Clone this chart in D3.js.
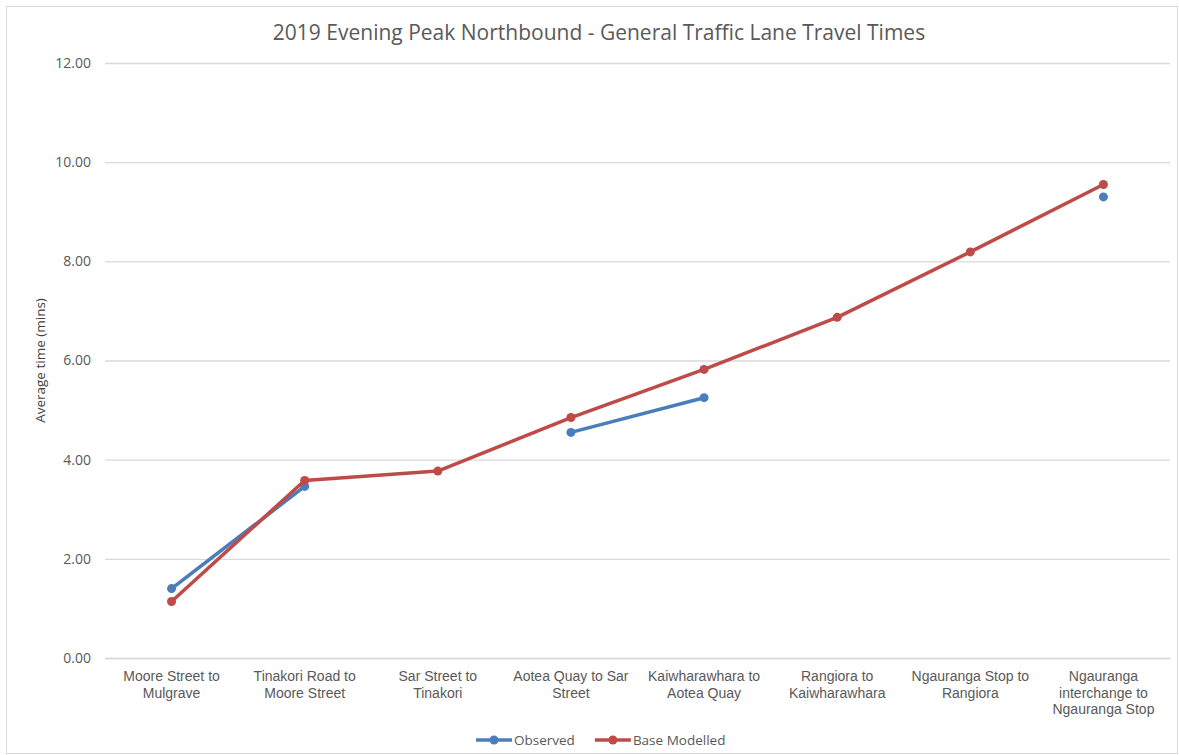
<!DOCTYPE html>
<html>
<head>
<meta charset="utf-8">
<script src="https://cdn.jsdelivr.net/npm/d3@7/dist/d3.min.js"></script>
<style>
  body { margin: 0; background: #fff; }
  svg { font-family: "Open Sans", "Noto Sans", sans-serif; }
</style>
</head>
<body>
<div id="chart"></div>
<script>
const categories = [
  ["Moore Street to", "Mulgrave"],
  ["Tinakori Road to", "Moore Street"],
  ["Sar Street to", "Tinakori"],
  ["Aotea Quay to Sar", "Street"],
  ["Kaiwharawhara to", "Aotea Quay"],
  ["Rangiora to", "Kaiwharawhara"],
  ["Ngauranga Stop to", "Rangiora"],
  ["Ngauranga", "interchange to", "Ngauranga Stop"]
];
const observed = [1.40, 3.46, null, 4.55, 5.25, null, null, 9.30];
const baseModelled = [1.14, 3.58, 3.77, 4.85, 5.82, 6.87, 8.19, 9.55];
const yTicks = [0, 2, 4, 6, 8, 10, 12];

const series = [
  { name: "Observed", values: observed, color: "#4a7ebb" },
  { name: "Base Modelled", values: baseModelled, color: "#be4b48" }
];

const W = 1179, H = 755;
const margin = { top: 63, right: 9, bottom: 97, left: 105 };
const width = W - margin.left - margin.right;
const height = H - margin.top - margin.bottom;

const svg = d3.select("#chart").append("svg")
  .attr("width", W).attr("height", H);

// chart border
svg.append("rect")
  .attr("x", 6.5).attr("y", 6.5)
  .attr("width", W - 8).attr("height", H - 8)
  .attr("fill", "none").attr("stroke", "#d9d9d9");

svg.append("text")
  .attr("x", 599).attr("y", 40)
  .attr("text-anchor", "middle")
  .attr("font-size", 21)
  .attr("fill", "#595959")
  .text("2019 Evening Peak Northbound - General Traffic Lane Travel Times");

const g = svg.append("g").attr("transform", `translate(${margin.left},${margin.top})`);

const x = d3.scaleBand().domain(d3.range(categories.length)).range([0, width]);
const y = d3.scaleLinear().domain([0, 12]).range([height, 0]);

// gridlines
g.append("g")
  .call(d3.axisLeft(y).tickValues(yTicks).tickSize(-width).tickFormat(d => d.toFixed(2)).tickPadding(14))
  .call(a => a.select(".domain").remove())
  .call(a => a.selectAll(".tick line").attr("stroke", "#d9d9d9").attr("stroke-width", 1.3))
  .call(a => a.selectAll(".tick text").attr("fill", "#595959").attr("font-size", 14).attr("font-family", "Open Sans"));

// x axis labels
const xa = g.append("g")
  .attr("transform", `translate(0,${height})`)
  .call(d3.axisBottom(x).tickSize(0).tickFormat(""))
  .call(a => a.select(".domain").attr("stroke", "#d9d9d9").attr("stroke-width", 1.3));

xa.selectAll(".tick").each(function(d) {
  const t = d3.select(this).append("text")
    .attr("fill", "#595959")
    .attr("font-size", 14)
    .attr("text-anchor", "middle");
  categories[d].forEach((line, i) => {
    t.append("tspan").attr("x", 0).attr("y", 23 + i * 16.5).text(line);
  });
});

// y label
svg.append("text")
  .attr("transform", `translate(45,${margin.top + height / 2}) rotate(-90)`)
  .attr("text-anchor", "middle")
  .attr("font-size", 13.5)
  .attr("fill", "#404040")
  .text("Average time (mins)");

const cx = i => x(i) + x.bandwidth() / 2;
const line = d3.line()
  .defined(d => d != null)
  .x((d, i) => cx(i))
  .y(d => y(d));

series.forEach(s => {
  g.append("path")
    .datum(s.values)
    .attr("fill", "none")
    .attr("stroke", s.color)
    .attr("stroke-width", 3.5)
    .attr("stroke-linejoin", "round")
    .attr("d", line);
  g.selectAll(null)
    .data(s.values.map((v, i) => ({ v, i })).filter(d => d.v != null))
    .enter().append("circle")
    .attr("cx", d => cx(d.i))
    .attr("cy", d => y(d.v))
    .attr("r", 4.5)
    .attr("fill", s.color);
});

// legend
const legend = svg.append("g").attr("transform", "translate(476,740)");
let lx = 0;
series.forEach(s => {
  const item = legend.append("g").attr("transform", `translate(${lx},0)`);
  item.append("line").attr("x1", 0).attr("x2", 36).attr("y1", 0).attr("y2", 0)
    .attr("stroke", s.color).attr("stroke-width", 3.5);
  item.append("circle").attr("cx", 18).attr("cy", 0).attr("r", 4.5).attr("fill", s.color);
  const t = item.append("text").attr("x", 38).attr("y", 5)
    .attr("font-size", 13.5).attr("fill", "#595959").text(s.name);
  lx += 38 + t.node().getComputedTextLength() + 20;
});
</script>
</body>
</html>
